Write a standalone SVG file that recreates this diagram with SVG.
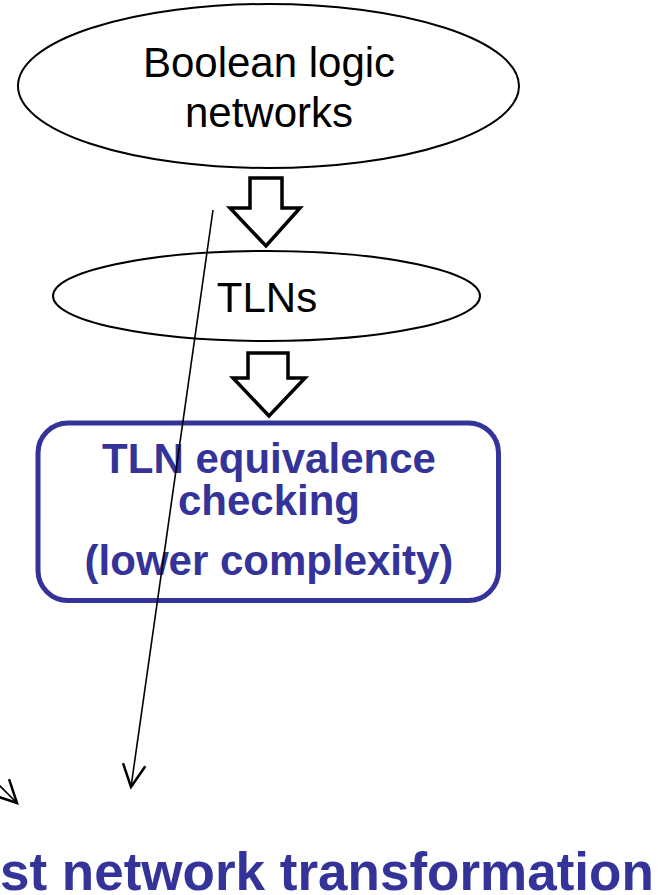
<svg xmlns="http://www.w3.org/2000/svg" width="666" height="895" viewBox="0 0 666 895">
<defs>
<style>
.node-shape{fill:#fff;stroke:#000;stroke-width:2}
.t{font-family:"Liberation Sans",Arial,sans-serif;font-size:42px;fill:#000;text-anchor:middle}
.b{font-family:"Liberation Sans",Arial,sans-serif;font-size:42px;font-weight:bold;fill:#333399;text-anchor:middle}
.block{fill:#fff;stroke:#000;stroke-width:3.5;stroke-linejoin:miter}
.conn{fill:none;stroke:#000;stroke-width:1.6}
</style>
<marker id="open" markerUnits="userSpaceOnUse" markerWidth="30" markerHeight="30" refX="0" refY="0" viewBox="-22 -12 24 24" orient="auto" overflow="visible">
<path d="M-18,-9 L0,0 L-18,9" fill="none" stroke="#000" stroke-width="2"/>
</marker>
</defs>
<rect width="666" height="895" fill="#fff"/>
<g id="boolean">
<ellipse class="node-shape" cx="268.5" cy="86" rx="250.5" ry="82"/>
<text class="t" x="269" y="77">Boolean logic</text>
<text class="t" x="269" y="127">networks</text>
</g>
<g id="tlns">
<ellipse class="node-shape" cx="266.5" cy="296" rx="213.5" ry="45"/>
<text class="t" x="267" y="312">TLNs</text>
</g>
<g id="equiv">
<rect x="38" y="423" width="460.5" height="177.5" rx="30" ry="30" fill="#fff" stroke="#333399" stroke-width="5"/>
<text class="b" x="269" y="473">TLN equivalence</text>
<text class="b" x="269" y="515">checking</text>
<text class="b" x="269" y="575">(lower complexity)</text>
</g>
<g id="bottom">
<text font-family="&quot;Liberation Sans&quot;, Arial, sans-serif" font-size="53" font-weight="bold" fill="#333399" x="0" y="890">st network transformation</text>
</g>
<g id="connectors">
<path class="block" d="M250,178 H282 V208 H300 L266,246 L230,208 H250 Z"/>
<path class="block" d="M248,353 H288 V378 H305 L269,416 L233,378 H248 Z"/>
<line class="conn" x1="213" y1="210" x2="131" y2="787" marker-end="url(#open)"/>
<line class="conn" x1="-30" y1="756" x2="17" y2="803" marker-end="url(#open)"/>
</g>
</svg>
